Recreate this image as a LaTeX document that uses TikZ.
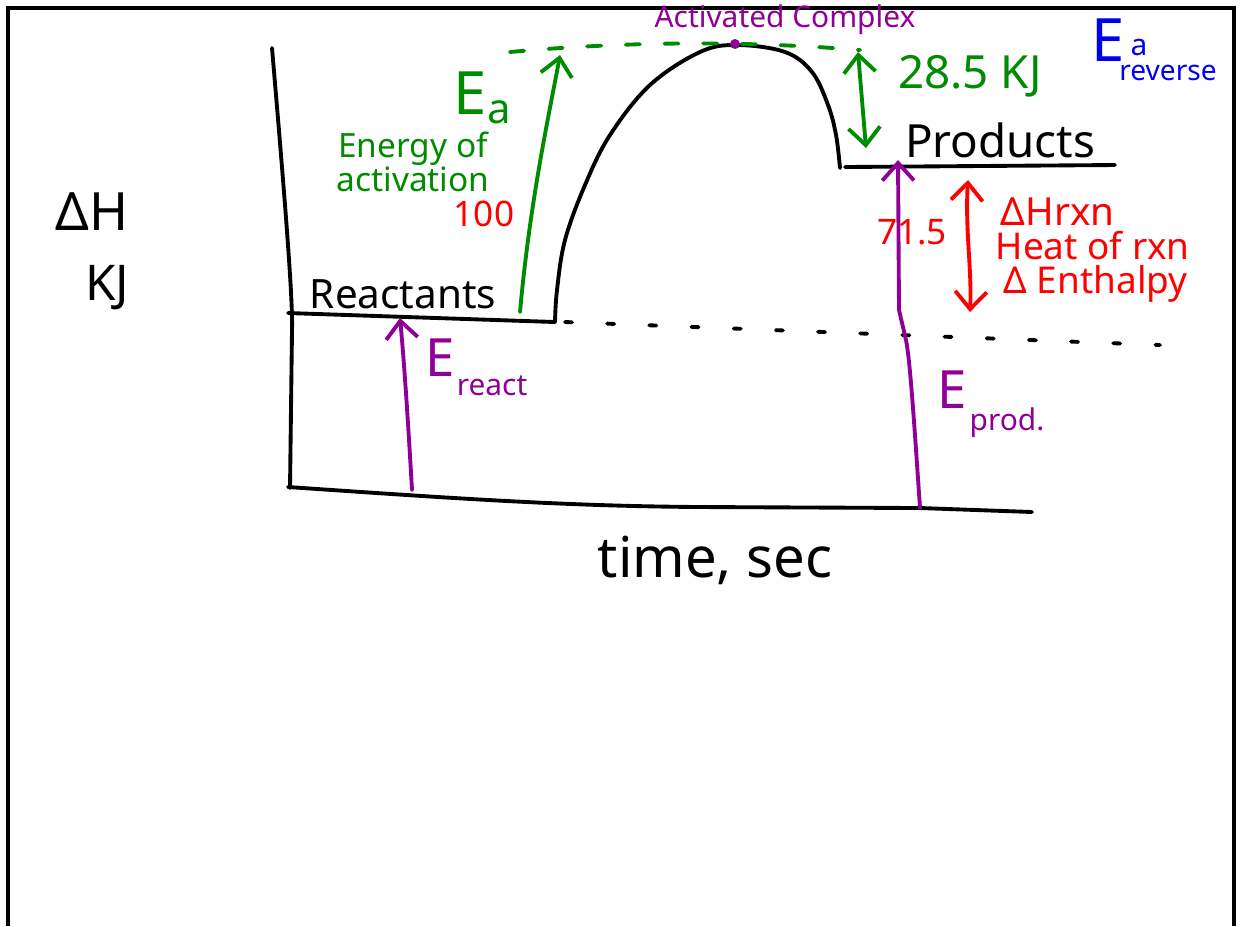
\documentclass[tikz,border=0pt]{standalone}
\usepackage{fontspec}
\setmainfont{Noto Sans}
\usepackage{tikz}
\usetikzlibrary{arrows.meta}

\definecolor{inkgreen}{RGB}{0,140,0}
\definecolor{inkpurple}{RGB}{145,0,150}
\definecolor{inkred}{RGB}{255,0,0}
\definecolor{inkblue}{RGB}{0,0,240}

\begin{document}
\begin{tikzpicture}[x=0.01cm,y=-0.01cm,
  ink/.style={line width=1.1pt,line cap=round,line join=round},
  pen/.style={ink,-{Straight Barb[length=5pt,width=9pt]}},
  twopen/.style={ink,{Straight Barb[length=5pt,width=9pt]}-{Straight Barb[length=5pt,width=9pt]}},
  lbl/.style={inner sep=0pt}]

\useasboundingbox (0,0) rectangle (1240,926);

% Page frame
\draw[line width=1pt] (8,926) -- (8,8) -- (1234,8) -- (1234,926);

% Axes
\draw[ink] (272,48) .. controls (285,200) and (293,300) .. (292,330) -- (290,488);
\draw[ink] (288,487) .. controls (450,498) and (560,506) .. (700,507) -- (920,508) -- (1032,512);

% Energy curve
\draw[ink] (288,313) -- (555,322);
\draw[ink] plot[smooth,tension=0.6] coordinates {(555,322) (557,290) (565,240) (585,185) (610,135) (650,85) (700,52) (737,45) (785,52) (812,72) (828,105) (836,135) (840,168)};
\draw[ink] (845,167) -- (1115,165);

% Reference levels
\draw[ink,inkgreen,dash pattern=on 4pt off 7pt] (510,52) .. controls (620,42) and (735,40) .. (860,50);
\draw[ink,dash pattern=on 2pt off 10pt] (565,322) -- (1160,345);

% Activated complex
\fill[inkpurple] (735,44) circle (5);
\node[lbl,text=inkpurple,font=\fontsize{8.5}{10}\selectfont] (cplx) at (785,20) {Activated Complex};

% Activation energy
\coordinate (eaBot) at (520,312);
\coordinate (eaTop) at (560,55);
\draw[pen,inkgreen] (eaBot) .. controls (530,200) and (550,110) .. (eaTop);
\node[lbl,text=inkgreen,font=\fontsize{17}{17}\selectfont] (ea) at (483,98) {E\textsubscript{a}};
\node[lbl,text=inkgreen,align=center,font=\fontsize{9.5}{9.5}\selectfont] (eaname) at (413,162) {Energy of\\activation};
\node[lbl,text=inkred,font=\fontsize{10}{10}\selectfont] (eaval) at (484,214) {100};

% Reverse activation energy
\coordinate (revTop) at (858,52);
\coordinate (revBot) at (866,148);
\draw[twopen,inkgreen] (revTop) -- (revBot);
\node[lbl,text=inkgreen,font=\fontsize{13}{13}\selectfont] (revval) at (970,76) {28.5 KJ};
\node[lbl,text=inkblue,font=\fontsize{17}{17}\selectfont] (rev) at (1108,40) {E};
\node[lbl,text=inkblue,font=\fontsize{8.5}{8.5}\selectfont] (reva) at (1139,47) {a};
\node[lbl,text=inkblue,font=\fontsize{8}{8}\selectfont] (revname) at (1168,73) {reverse};

% Levels
\node[lbl,font=\fontsize{13}{13}\selectfont] (prod) at (1000,140) {Products};
\node[lbl,font=\fontsize{11.5}{11.5}\selectfont] (react) at (403,294) {Reactants};

% Energy of reactants
\coordinate (erBot) at (412,490);
\coordinate (erTop) at (400,318);
\draw[pen,inkpurple] (erBot) .. controls (408,420) and (404,360) .. (erTop);
\node[lbl,text=inkpurple,font=\fontsize{15}{15}\selectfont] (er) at (440,358) {E};
\node[lbl,text=inkpurple,font=\fontsize{8.5}{8.5}\selectfont] (ername) at (492,386) {react};

% Energy of products
\coordinate (epBot) at (920,508);
\coordinate (epTop) at (898,160);
\draw[pen,inkpurple] (epBot) .. controls (914,420) and (910,360) .. (906,340) -- (899,310) -- (epTop);
\node[lbl,text=inkpurple,font=\fontsize{15}{15}\selectfont] (ep) at (952,390) {E};
\node[lbl,text=inkpurple,font=\fontsize{8.5}{8.5}\selectfont] (epname) at (1007,423) {prod.};
\node[lbl,text=inkred,font=\fontsize{10}{10}\selectfont] (epval) at (912,232) {71.5};

% Heat of reaction
\coordinate (dhTop) at (968,180);
\coordinate (dhBot) at (970,312);
\draw[twopen,inkred] (dhTop) .. controls (965,230) and (972,270) .. (dhBot);
\node[lbl,text=inkred,anchor=west,font=\fontsize{11}{11}\selectfont] (dh) at (1000,212) {ΔHrxn};
\node[lbl,text=inkred,anchor=west,font=\fontsize{10.5}{10.5}\selectfont] (dhname) at (995,246) {Heat of rxn};
\node[lbl,text=inkred,anchor=west,font=\fontsize{10.5}{10.5}\selectfont] (dhalt) at (1003,284) {Δ Enthalpy};

% Axis labels
\node[lbl,font=\fontsize{15}{15}\selectfont] (ylab) at (92,212) {ΔH};
\node[lbl,font=\fontsize{14}{14}\selectfont] (yunit) at (107,288) {KJ};
\node[lbl,font=\fontsize{16}{16}\selectfont] (xlab) at (715,560) {time, sec};

\end{tikzpicture}
\end{document}
